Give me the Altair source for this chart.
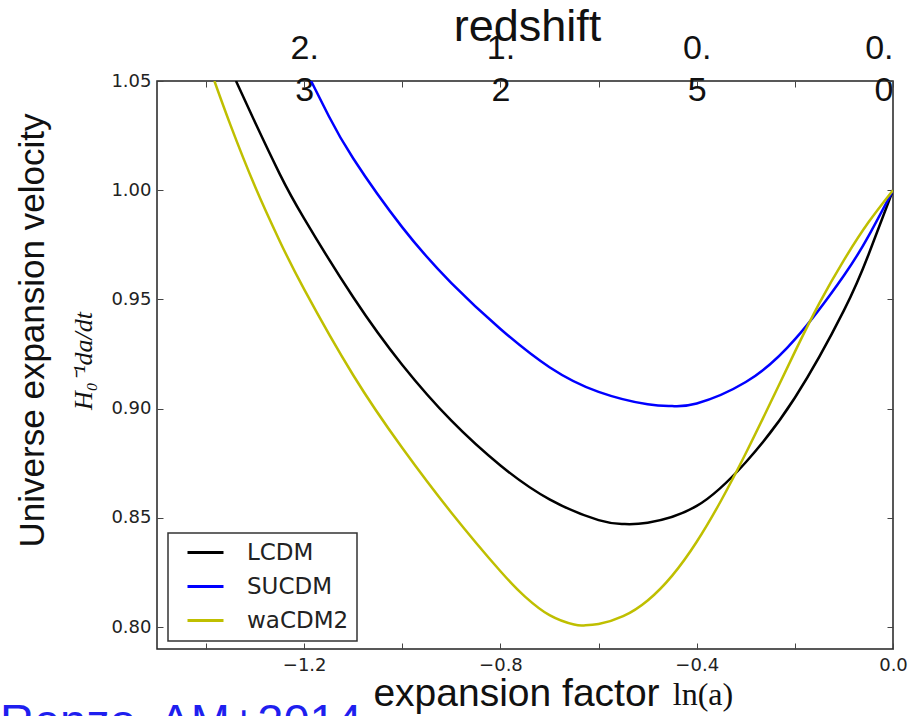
import altair as alt
import pandas as pd

# ---- data ----
models = ["LCDM", "SUCDM", "waCDM2"]
model_colors = ["#000000", "#0000ff", "#bfbf00"]

lcdm_lna = [-1.339, -1.3, -1.25, -1.2, -1.1, -1.0, -0.9, -0.8, -0.7, -0.6, -0.55, -0.5, -0.4, -0.3, -0.2, -0.1, -0.05, 0.0]
lcdm_vel = [1.05, 1.031, 1.0075, 0.987, 0.951, 0.920, 0.8945, 0.874, 0.8585, 0.849, 0.8472, 0.8478, 0.8555, 0.8755, 0.905, 0.945, 0.9705, 1.0]

sucdm_lna = [-1.186, -1.15, -1.1, -1.0, -0.9, -0.8, -0.7, -0.6, -0.5, -0.45, -0.4, -0.3, -0.2, -0.1, -0.05, 0.0]
sucdm_vel = [1.05, 1.034, 1.0145, 0.983, 0.9575, 0.9365, 0.919, 0.9077, 0.902, 0.9012, 0.9024, 0.9122, 0.9317, 0.961, 0.979, 1.0]

wacdm_lna = [-1.383, -1.35, -1.3, -1.25, -1.2, -1.1, -1.0, -0.9, -0.8, -0.75, -0.7, -0.65, -0.63, -0.6, -0.55, -0.5, -0.45, -0.4, -0.35, -0.3, -0.25, -0.2, -0.15, -0.1, -0.05, 0.0]
wacdm_vel = [1.05, 1.0297, 1.0016, 0.9768, 0.9546, 0.9153, 0.882, 0.8524, 0.8256, 0.814, 0.8055, 0.8012, 0.8008, 0.8014, 0.805, 0.8122, 0.8236, 0.8391, 0.8581, 0.8796, 0.9026, 0.926, 0.9483, 0.968, 0.9853, 1.0]

x_ticks = [-1.4, -1.2, -1.0, -0.8, -0.6, -0.4, -0.2, 0.0]
x_labeled = [-1.2, -0.8, -0.4, 0.0]
y_ticks = [0.80, 0.85, 0.90, 0.95, 1.00, 1.05]
redshift_pos = [-1.2, -0.8, -0.4, 0.0]
redshift_labels = ["2.3", "1.2", "0.5", "0.0"]

x_title = "expansion factor"
x_title_math = "ln(a)"
top_title = "redshift"
y_title = "Universe expansion velocity"
y_title_math = "H\u2080\u207b\u00b9da/dt"
credit = "Renzo, AM+2014"

# ---- table ----
rows = []
for name, xs, ys in [("LCDM", lcdm_lna, lcdm_vel), ("SUCDM", sucdm_lna, sucdm_vel), ("waCDM2", wacdm_lna, wacdm_vel)]:
    for a, b in zip(xs, ys):
        rows.append({"lna": a, "v": b, "model": name})
df = pd.DataFrame(rows)

W, H = 736, 568
xscale = alt.Scale(domain=[-1.5, 0.0], nice=False, zero=False)
yscale = alt.Scale(domain=[0.79, 1.05], nice=False, zero=False)

lab_codes = ",".join(str(int(round(v * 10))) for v in x_labeled)
bottom_expr = f"indexof([{lab_codes}], round(datum.value*10)) >= 0 ? format(datum.value, '.1f') : ''"

top_expr = ""
for p, s in zip(redshift_pos, redshift_labels):
    a, b = s.split(".")
    top_expr += f"round(datum.value*10) == {int(round(p * 10))} ? ['{a}.', '{b}'] : "
top_expr += "''"

tick_color = "#444"
lab_color = "#222"

bottom_axis = alt.Axis(
    orient="bottom", values=x_ticks, labelExpr=bottom_expr, offset=-6, tickSize=6,
    domain=False, grid=False, tickColor=tick_color, tickWidth=1, labelFlush=False,
    labelPadding=7, labelFont="DejaVu Sans", labelFontSize=18, labelColor=lab_color,
    title=x_title, titleFont="Liberation Sans", titleFontSize=39, titleFontWeight="normal",
    titleColor="#111", titleX=359, titleY=62, titleAlign="center", titleBaseline="alphabetic",
)
left_axis = alt.Axis(
    orient="left", values=y_ticks, format=".2f", offset=-6, tickSize=6,
    domain=False, grid=False, tickColor=tick_color, tickWidth=1,
    labelPadding=6, labelFont="DejaVu Sans", labelFontSize=18, labelColor=lab_color,
    title=y_title, titleFont="Liberation Sans", titleFontSize=35, titleFontWeight="normal",
    titleColor="#111", titleX=-131, titleY=249, titleAngle=270, titleAlign="center",
    titleBaseline="middle",
)
top_axis = alt.Axis(
    orient="top", values=x_ticks, labelExpr=top_expr, offset=-6, tickSize=6,
    domain=False, grid=False, tickColor=tick_color, tickWidth=1,
    labelPadding=23, labelBaseline="alphabetic", labelLineHeight=42, labelFlush=True,
    labelFont="Liberation Sans", labelFontSize=34, labelColor="#111",
    title=top_title, titleFont="Liberation Sans", titleFontSize=45, titleFontWeight="normal",
    titleColor="#111", titleX=370, titleY=-47, titleAlign="center", titleBaseline="alphabetic",
)
right_axis = alt.Axis(
    orient="right", values=y_ticks, labels=False, offset=-6, tickSize=6,
    domain=False, grid=False, tickColor=tick_color, tickWidth=1, title=None,
)

lines = alt.Chart(df).mark_line(strokeWidth=2.5, interpolate="natural", clip=True).encode(
    x=alt.X("lna:Q", scale=xscale, axis=bottom_axis),
    y=alt.Y("v:Q", scale=yscale, axis=left_axis),
    color=alt.Color(
        "model:N",
        scale=alt.Scale(domain=models, range=model_colors),
        legend=alt.Legend(
            orient="none", legendX=11, legendY=452, title=None, direction="vertical",
            labelFont="DejaVu Sans", labelFontSize=23, labelColor="#222",
            symbolType="M-2,0H2", symbolSize=324, symbolStrokeWidth=3,
            strokeColor="#333", fillColor="white", padding=8, rowPadding=10,
            labelOffset=30, symbolOffset=18,
        ),
    ),
    detail="model:N",
)

frame_axes = alt.Chart(df).mark_line(strokeOpacity=0).encode(
    x=alt.X("lna:Q", scale=xscale, axis=top_axis),
    y=alt.Y("v:Q", scale=yscale, axis=right_axis),
    detail="model:N",
)

def text_layer(s, **kw):
    return alt.Chart(pd.DataFrame({"t": [s]})).mark_text(**kw).encode(text="t:N")

math_y = text_layer(y_title_math, font="Liberation Serif", fontStyle="italic", fontSize=26,
                    angle=270, align="center", baseline="middle", color="#111").encode(
    x=alt.value(-73), y=alt.value(280))
math_x = text_layer(x_title_math, font="Liberation Serif", fontSize=32, align="center",
                    baseline="alphabetic", color="#111").encode(x=alt.value(546), y=alt.value(624))
credit_t = text_layer(credit, font="Liberation Sans", fontSize=47, align="left",
                      baseline="alphabetic", color="#1f1fef").encode(x=alt.value(-157), y=alt.value(656))

chart = alt.layer(lines, frame_axes, math_y, math_x, credit_t).resolve_axis(
    x="independent", y="independent"
).properties(
    width=W, height=H, autosize="none",
    padding={"left": 157, "top": 81, "right": 17, "bottom": 67},
    background="white",
).configure_view(stroke="#222", strokeWidth=1.5).configure_legend(strokeWidth=1.5, cornerRadius=0)

chart.save("out.html", embed_options={"renderer": "svg", "actions": False})
